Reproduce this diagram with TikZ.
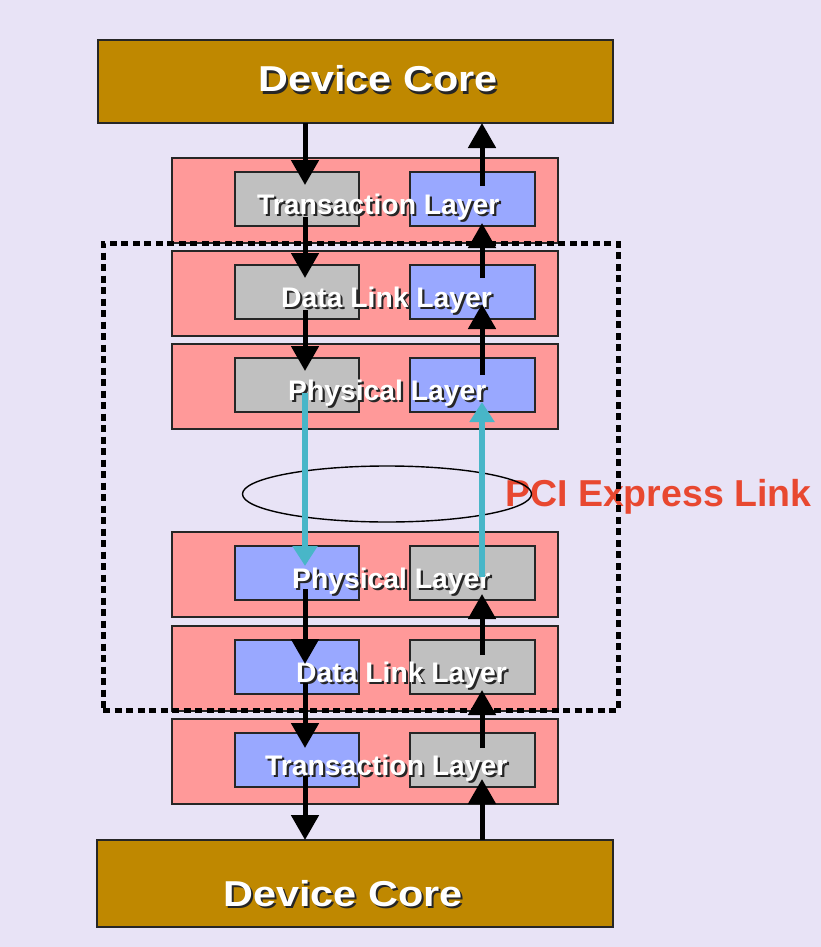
\documentclass[tikz,border=0pt]{standalone}
\usepackage{fontspec}
\setmainfont{Liberation Sans}
\newfontfamily\corefont[FakeStretch=1.15]{Liberation Sans}
\usetikzlibrary{arrows.meta,calc,shapes.geometric}
\definecolor{bg}{HTML}{E8E3F6}
\definecolor{core}{HTML}{BF8800}
\definecolor{pinkl}{HTML}{FF9999}
\definecolor{grayl}{HTML}{C0C0C0}
\definecolor{bluel}{HTML}{99A8FF}
\definecolor{cyanl}{HTML}{48B6C8}
\definecolor{redl}{HTML}{E84830}
\definecolor{shadowc}{HTML}{262626}
\newcommand\shadowtext[1]{%
  \makebox[0pt][l]{\hspace*{2.2pt}\raisebox{-2.2pt}{\textcolor{shadowc}{#1}}}\textcolor{white}{#1}}
\begin{document}
\begin{tikzpicture}[x=1pt,y=-1pt,
  box/.style={draw=black!85, line width=1.4pt, inner sep=0pt, outer sep=0pt, anchor=north west},
  lbl/.style={anchor=base west, inner sep=0pt, font=\bfseries\fontsize{28.3}{28.3}\selectfont},
  corelbl/.style={anchor=base west, inner sep=0pt, font=\corefont\bfseries\fontsize{36}{36}\selectfont},
  arr/.style={draw=black, line width=5pt, -{Triangle[width=27pt,length=25pt]}},
  carr/.style={draw=cyanl, line width=6pt, -{Triangle[width=24pt,length=20pt]}}]
\fill[bg] (0,0) rectangle (821,947);
\useasboundingbox (0,0) rectangle (821,947);

\node[box, fill=core, minimum width=515pt, minimum height=83pt] (dc1) at (98,40) {};
\node[box, fill=core, minimum width=516pt, minimum height=87pt] (dc2) at (97,840) {};

\foreach \n/\t/\lc/\rc in {t1/158/grayl/bluel, d1/251/grayl/bluel, p1/344/grayl/bluel, p2/532/bluel/grayl, d2/626/bluel/grayl, t2/719/bluel/grayl}{
  \node[box, fill=pinkl, minimum width=386pt, minimum height=85pt] (\n) at (172,\t) {};
  \node[box, fill=\lc, minimum width=124pt, minimum height=54pt] (\n-l) at (235,\t+14) {};
  \node[box, fill=\rc, minimum width=125pt, minimum height=54pt] (\n-r) at (410,\t+14) {};
}

\node[lbl] (lt1) at (257,214) {\shadowtext{Transaction Layer}};
\node[lbl] (ld1) at (281,307) {\shadowtext{Data Link Layer}};
\node[lbl] (lp1) at (288,400) {\shadowtext{Physical Layer}};
\node[lbl] (lp2) at (292,588) {\shadowtext{Physical Layer}};
\node[lbl] (ld2) at (296,682) {\shadowtext{Data Link Layer}};
\node[lbl] (lt2) at (265,775) {\shadowtext{Transaction Layer}};
\node[corelbl] (ldc1) at (258,92) {\shadowtext{Device Core}};
\node[corelbl] (ldc2) at (223,906) {\shadowtext{Device Core}};

\node[anchor=base west, inner sep=0pt, text=redl, font=\bfseries\fontsize{37.5}{37.5}\selectfont] (pci) at (505,506.5) {PCI Express Link};

\node[ellipse, draw=black, line width=1.4pt, minimum width=289pt, minimum height=56pt, inner sep=0pt] (link) at (387,494) {};

\node[draw=black, line width=5pt, dash pattern=on 7pt off 4.5pt, minimum width=515pt, minimum height=467pt, inner sep=0pt, outer sep=0pt, anchor=north west] (frame) at (103,243) {};

\coordinate (cl) at (305,0);
\coordinate (cr) at (482,0);

% downward (left column)
\draw[arr] (dc1.south -| cl) -- ($(t1-l.north -| cl)+(0,13)$);
\draw[arr] ($(t1-l.north -| cl)+(0,45)$) -- ($(d1-l.north -| cl)+(0,13)$);
\draw[arr] ($(d1-l.north -| cl)+(0,45)$) -- ($(p1-l.north -| cl)+(0,13)$);
\draw[carr] ($(p1-l.north -| cl)+(0,35)$) -- ($(p2-l.north -| cl)+(0,20)$);
\draw[arr] ($(p2-l.north -| cl)+(0,43)$) -- ($(d2-l.north -| cl)+(0,24)$);
\draw[arr] ($(d2-l.north -| cl)+(0,43)$) -- ($(t2-l.north -| cl)+(0,15)$);
\draw[arr] ($(t2-l.north -| cl)+(0,43)$) -- (dc2.north -| cl);

% upward (right column)
\draw[arr] (dc2.north -| cr) -- ($(t2-r.south -| cr)+(0,-8)$);
\draw[arr] ($(t2-r.north -| cr)+(0,15)$) -- ($(d2-r.south -| cr)+(0,-4)$);
\draw[arr] ($(d2-r.north -| cr)+(0,15)$) -- ($(p2-r.south -| cr)+(0,-6)$);
\draw[carr] ($(p2-r.north -| cr)+(0,31)$) -- ($(p1-r.south -| cr)+(0,-10)$);
\draw[arr] ($(p1-r.north -| cr)+(0,17)$) -- ($(d1-r.south -| cr)+(0,-15)$);
\draw[arr] ($(d1-r.north -| cr)+(0,13)$) -- ($(t1-r.south -| cr)+(0,-3)$);
\draw[arr] ($(t1-r.north -| cr)+(0,14)$) -- (dc1.south -| cr);
\end{tikzpicture}
\end{document}
